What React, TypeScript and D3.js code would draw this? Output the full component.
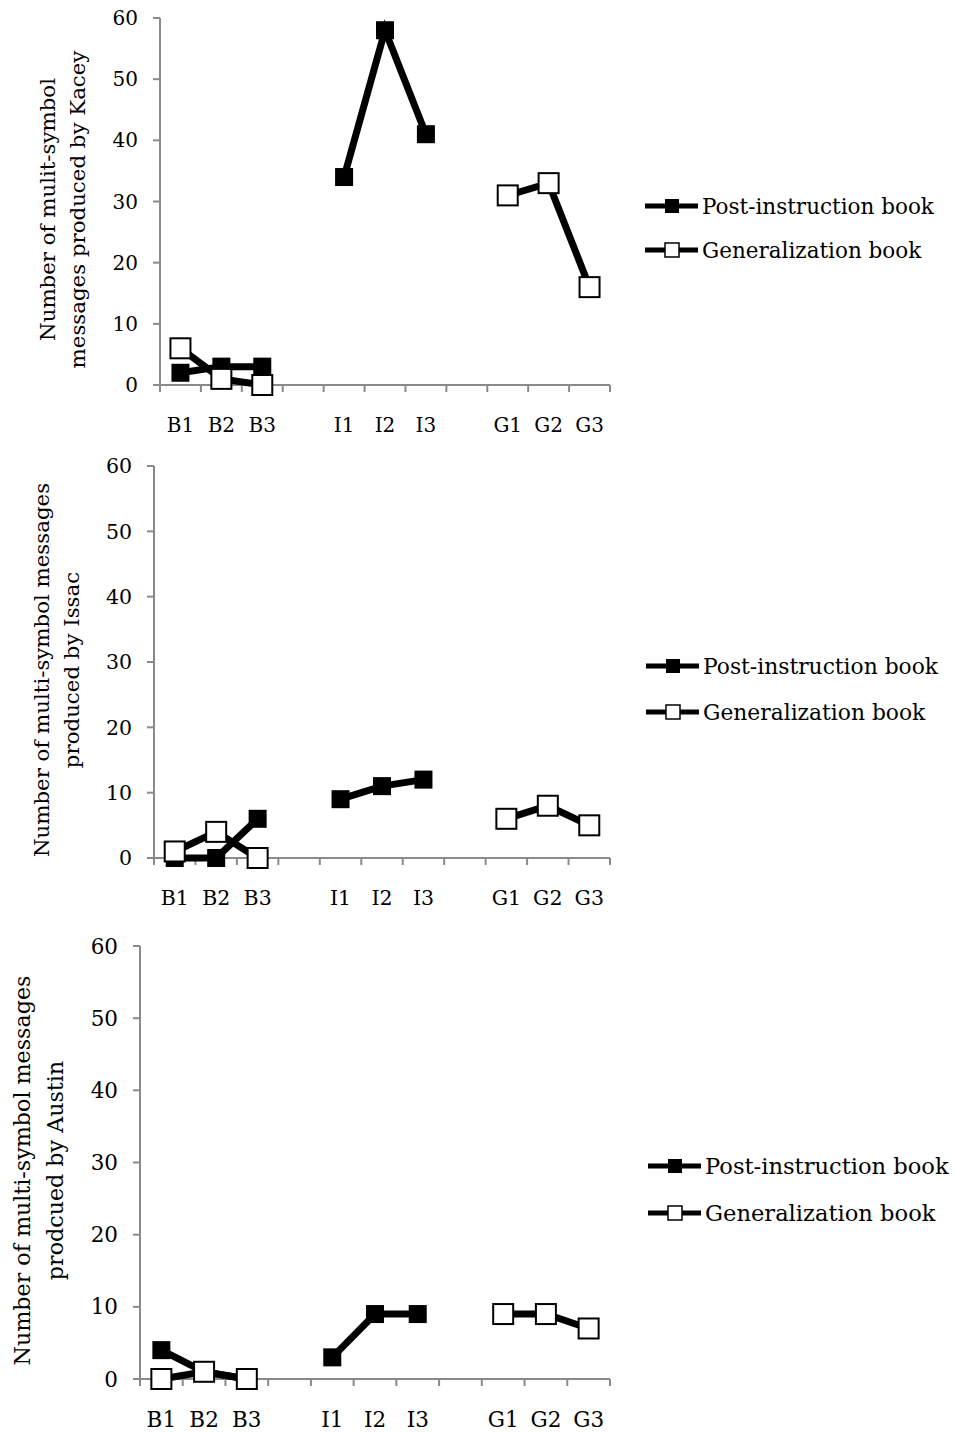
import React from 'react'
import * as d3 from 'd3'

// session categories (blank slots are the gaps between phases)
const sessions = ['B1', 'B2', 'B3', 'gap1', 'I1', 'I2', 'I3', 'gap2', 'G1', 'G2', 'G3']
const yTicks = [0, 10, 20, 30, 40, 50, 60]
const seriesNames = ['Post-instruction book', 'Generalization book']

// Kacey
const kaceyPost = [2, 3, 3, null, 34, 58, 41, null, null, null, null]
const kaceyGen = [6, 1, 0, null, null, null, null, null, 31, 33, 16]
// Issac
const issacPost = [0, 0, 6, null, 9, 11, 12, null, null, null, null]
const issacGen = [1, 4, 0, null, null, null, null, null, 6, 8, 5]
// Austin
const austinPost = [4, 1, 0, null, 3, 9, 9, null, null, null, null]
const austinGen = [0, 1, 0, null, null, null, null, null, 9, 9, 7]

const FONT = '"DejaVu Serif", serif'
const AXIS = '#8a8a8a'

type Panel = {
  left: number; right: number; top: number; bottom: number
  title: string[]; titleX: number; titleGap: number
  post: (number | null)[]; gen: (number | null)[]
  legendX: number; legendY: number; legendGap: number
  tickFs: number; titleFs: number; legendFs: number
}

const panels: Panel[] = [
  { left: 160, right: 610, top: 18, bottom: 385, title: ['Number of mulit-symbol', 'messages produced by Kacey'],
    titleX: 48, titleGap: 30, post: kaceyPost, gen: kaceyGen, legendX: 645, legendY: 206, legendGap: 44,
    tickFs: 20, titleFs: 21.3, legendFs: 21.5 },
  { left: 154, right: 610, top: 466, bottom: 858, title: ['Number of multi-symbol messages', 'produced by Issac'],
    titleX: 42, titleGap: 30, post: issacPost, gen: issacGen, legendX: 646, legendY: 666, legendGap: 46,
    tickFs: 20.5, titleFs: 21.3, legendFs: 21.8 },
  { left: 140, right: 610, top: 946, bottom: 1379, title: ['Number of multi-symbol messages', 'prodcued by Austin'],
    titleX: 22, titleGap: 33, post: austinPost, gen: austinGen, legendX: 648, legendY: 1166, legendGap: 47,
    tickFs: 21.5, titleFs: 22.2, legendFs: 22.6 },
]

function Chart({ p }: { p: Panel }) {
  const x = d3.scaleBand<string>().domain(sessions).range([p.left, p.right])
  const y = d3.scaleLinear().domain([0, 60]).range([p.bottom, p.top])
  const cx = (i: number) => (x(sessions[i]) as number) + x.bandwidth() / 2
  const line = d3.line<number | null>()
    .defined(d => d != null)
    .x((_, i) => cx(i))
    .y(d => y(d as number))
  const boundaries = sessions.map(s => x(s) as number).concat([p.right])
  const midY = (p.top + p.bottom) / 2 + 8

  const markers = (vals: (number | null)[], filled: boolean) =>
    vals.map((v, i) => v == null ? null : filled
      ? <rect key={i} x={cx(i) - 9} y={y(v) - 9} width={18} height={18} fill="#000" />
      : <rect key={i} x={cx(i) - 10} y={y(v) - 10} width={20} height={20} fill="#fff" stroke="#000" strokeWidth={2} />)

  return (
    <g>
      {/* axes */}
      <line x1={p.left} x2={p.left} y1={p.top} y2={p.bottom + 7} stroke={AXIS} strokeWidth={2} />
      <line x1={p.left} x2={p.right} y1={p.bottom} y2={p.bottom} stroke={AXIS} strokeWidth={2} />
      {yTicks.map(t => (
        <g key={t}>
          <line x1={p.left - 7} x2={p.left} y1={y(t)} y2={y(t)} stroke={AXIS} strokeWidth={2} />
          <text x={p.left - 22} y={y(t)} dy="0.35em" textAnchor="end" fontSize={p.tickFs}>{t}</text>
        </g>
      ))}
      {boundaries.map((b, i) => (
        <line key={i} x1={b} x2={b} y1={p.bottom} y2={p.bottom + 7} stroke={AXIS} strokeWidth={2} />
      ))}
      {sessions.map((s, i) => s.startsWith('gap') ? null : (
        <text key={s} x={cx(i)} y={p.bottom + 40} dy="0.35em" textAnchor="middle" fontSize={p.tickFs}>{s}</text>
      ))}
      <g transform={`translate(${p.titleX},${midY}) rotate(-90)`}>
        {p.title.map((t, i) => (
          <text key={i} x={0} y={i * p.titleGap} dy="0.35em" textAnchor="middle" fontSize={p.titleFs}>{t}</text>
        ))}
      </g>
      {/* series */}
      <path d={line(p.post) || ''} fill="none" stroke="#000" strokeWidth={7} />
      {markers(p.post, true)}
      <path d={line(p.gen) || ''} fill="none" stroke="#000" strokeWidth={7} />
      {markers(p.gen, false)}
      {/* legend */}
      {seriesNames.map((n, i) => {
        const ly = p.legendY + i * p.legendGap
        return (
          <g key={n}>
            <line x1={p.legendX} x2={p.legendX + 53} y1={ly} y2={ly} stroke="#000" strokeWidth={5} />
            {i === 0
              ? <rect x={p.legendX + 20} y={ly - 7} width={14} height={14} fill="#000" />
              : <rect x={p.legendX + 20} y={ly - 7} width={14} height={14} fill="#fff" stroke="#000" strokeWidth={1.5} />}
            <text x={p.legendX + 57} y={ly} dy="0.35em" fontSize={p.legendFs}>{n}</text>
          </g>
        )
      })}
    </g>
  )
}

export default function App() {
  return (
    <svg width={955} height={1432} style={{ position: 'absolute', left: 0, top: 0, background: '#fff' }}
      fontFamily={FONT} fill="#000">
      {panels.map((p, i) => <Chart key={i} p={p} />)}
    </svg>
  )
}
